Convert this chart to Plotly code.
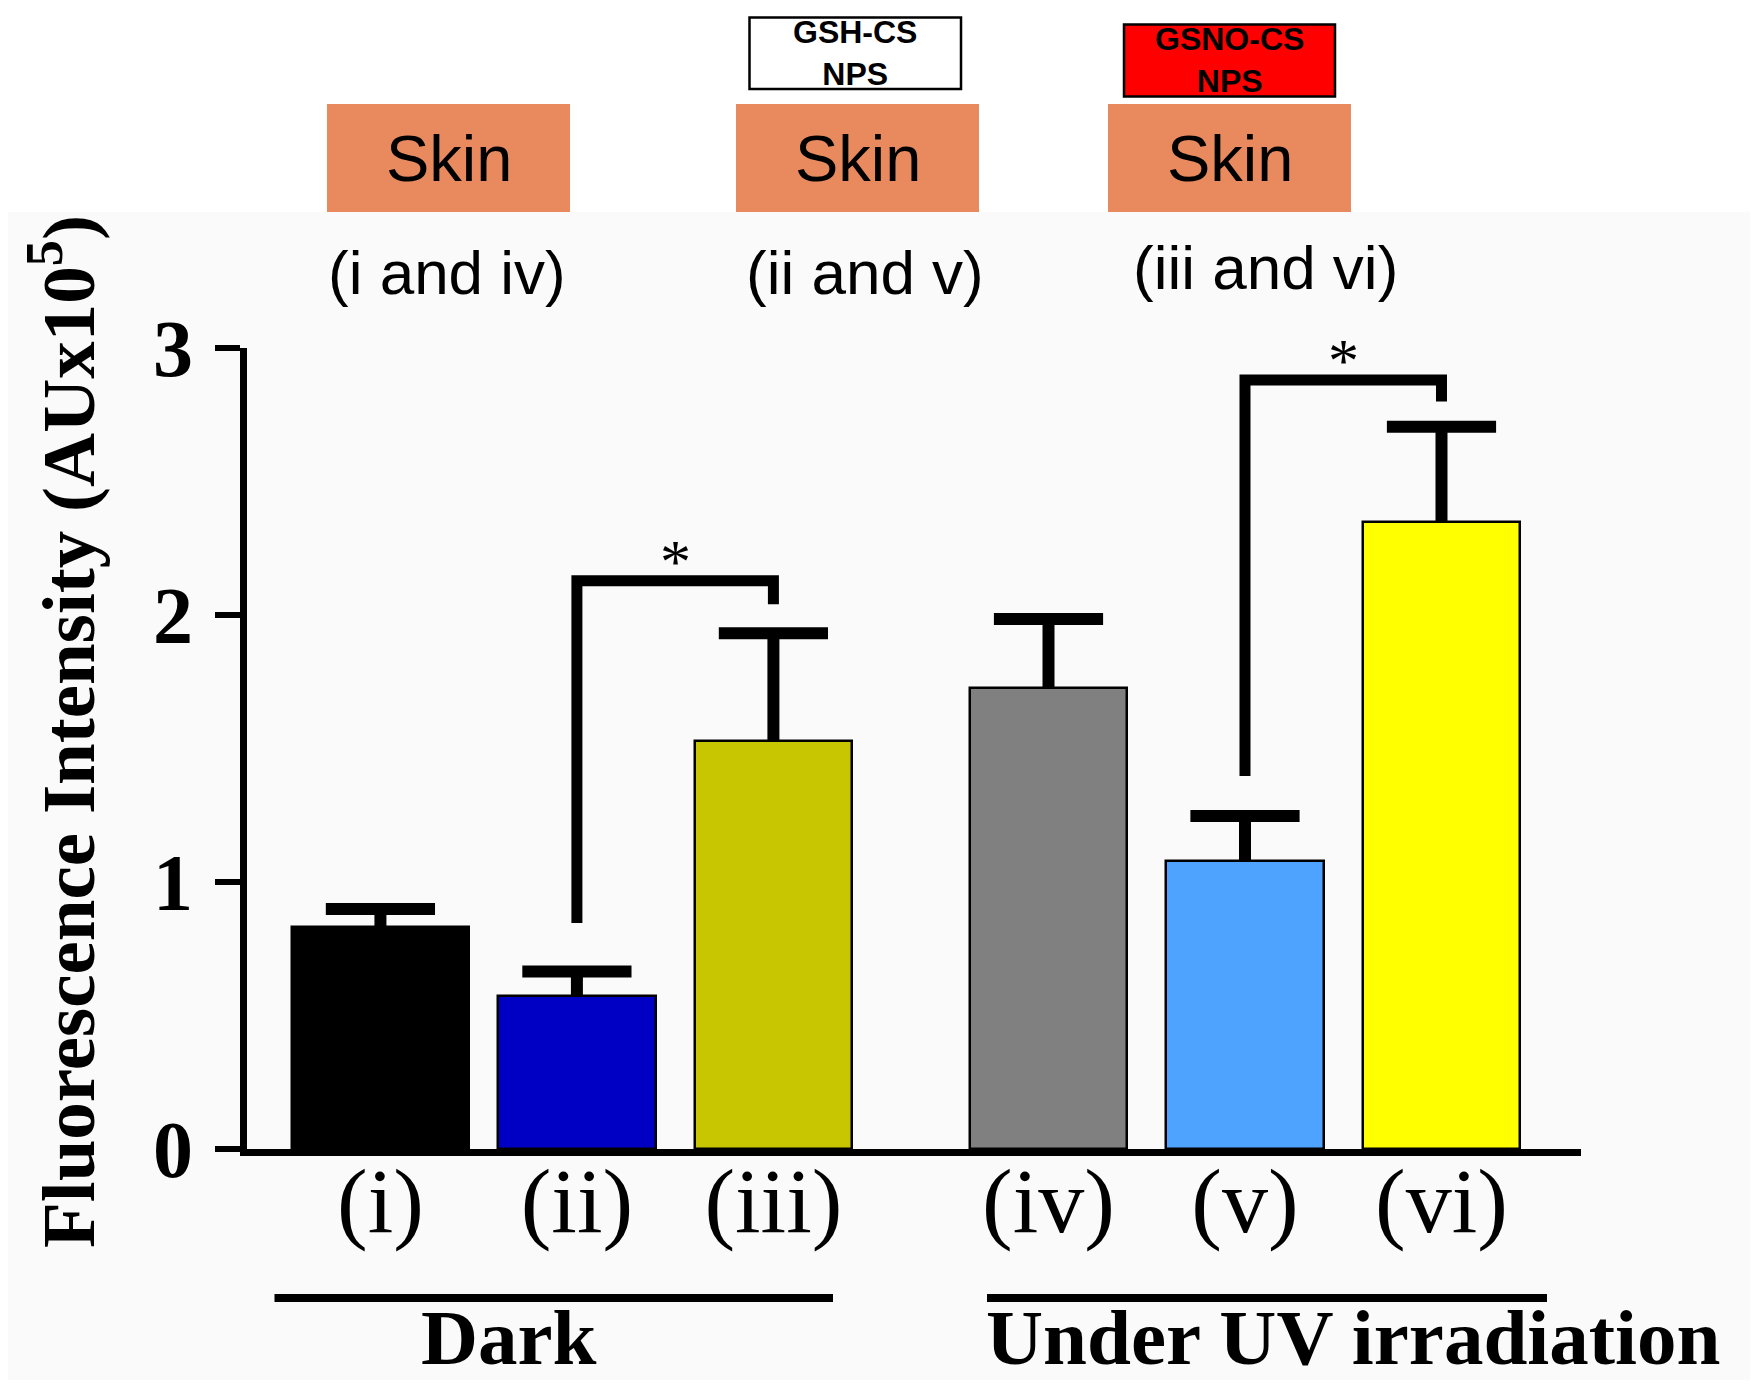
import plotly.graph_objects as go

# ---------------- data ----------------
labels = ["(i)", "(ii)", "(iii)", "(iv)", "(v)", "(vi)"]
group_of_bar = [0, 0, 0, 1, 1, 1]
group_names = ["Dark", "Under UV irradiation"]
means = [0.833, 0.573, 1.528, 1.725, 1.079, 2.349]
sems = [0.066, 0.092, 0.404, 0.260, 0.168, 0.356]

# significance brackets: (left bar, right bar)
sig_pairs = [(1, 2), (4, 5)]
sig_heights = [2.128, 2.88]
sig_left_bottom = [0.846, 1.397]
sig_right_bottom = [2.04, 2.80]
sig_labels = ["*", "*"]

y_ticks = [0, 1, 2, 3]
y_title = "Fluorescence Intensity (AUx10<sup>5</sup>)"

skin_labels = ["(i and iv)", "(ii and v)", "(iii and vi)"]
np_labels = ["GSH-CS<br>NPS", "GSNO-CS<br>NPS"]

# ---------------- style ----------------
bar_colors = ["#000000", "#0000C4", "#C8C600", "#808080", "#4DA3FF", "#FFFF00"]
bar_widths = [0.9, 0.8, 0.8, 0.8, 0.8, 0.8]
group_gap = 0.4
SERIF = "Liberation Serif"
SANS = "Liberation Sans"

# the page body has an 8px margin; lay the figure out so it lands on the
# reference pixel grid (reference coords used below)
OFF = 8
REF_W, REF_H = 1758, 1388
W, H = REF_W - 2 * OFF, REF_H - 2 * OFF
PLOT_L, PLOT_R, PLOT_T, PLOT_B = 247, 1581, 348, 1149  # reference pixels
L, T = PLOT_L - OFF, PLOT_T - OFF
R, B = W - (PLOT_R - OFF), H - (PLOT_B - OFF)
pw, ph = PLOT_R - PLOT_L, PLOT_B - PLOT_T


def px(x):
    return (x - PLOT_L) / pw


def py(y):
    return (PLOT_B - y) / ph


xpos = [i + group_gap * g for i, g in enumerate(group_of_bar)]
tops = [m + s for m, s in zip(means, sems)]

fig = go.Figure()
fig.add_trace(go.Bar(
    x=xpos, y=means, width=bar_widths,
    marker=dict(color=bar_colors, line=dict(color="black", width=2.5)),
    showlegend=False, hoverinfo="y",
))
# upper error bars: stem + cap
fig.add_trace(go.Scatter(
    x=xpos, y=tops, mode="markers",
    marker=dict(symbol="line-ew", size=78, color="black",
                line=dict(color="black", width=12)),
    error_y=dict(type="data", array=[0] * len(sems), arrayminus=sems,
                 symmetric=False, color="black", thickness=12, width=0),
    showlegend=False, hoverinfo="skip",
))

shapes = []
# very light grey panel background
shapes.append(dict(type="rect", xref="paper", yref="paper", layer="below",
                   x0=px(0), x1=px(REF_W), y0=py(REF_H), y1=py(212),
                   fillcolor="#FAFAFA", line=dict(width=0)))

annotations = []
# significance brackets
for (a, b), h, lb, rb, s in zip(sig_pairs, sig_heights, sig_left_bottom, sig_right_bottom, sig_labels):
    xa, xb = xpos[a], xpos[b]
    shapes.append(dict(type="path", xref="x", yref="y",
                       path=f"M {xa},{lb} L {xa},{h} L {xb},{h} L {xb},{rb}",
                       line=dict(color="black", width=11)))
    annotations.append(dict(x=(xa + xb) / 2, y=h + 0.075, xref="x", yref="y",
                            text=s, showarrow=False, yanchor="middle",
                            font=dict(family=SERIF, size=62, color="black")))

# group underlines and names
group_lines = [(274.5, 833), (987, 1547)]
group_text_x = [508.5, 1353]
for (x0, x1), tx, name in zip(group_lines, group_text_x, group_names):
    shapes.append(dict(type="line", xref="paper", yref="paper",
                       x0=px(x0), x1=px(x1), y0=py(1298), y1=py(1298),
                       line=dict(color="black", width=8)))
    annotations.append(dict(x=px(tx), y=py(1337), xref="paper", yref="paper",
                            text=name, showarrow=False, xanchor="center", yanchor="middle",
                            font=dict(family=SERIF, size=79, color="black", weight="bold")))

# Skin boxes
skin_boxes = [(327, 570), (736, 979), (1108, 1351)]
skin_text_pos = [(447, 272), (865, 272), (1265, 267)]
for (x0, x1), (tx, ty), lab in zip(skin_boxes, skin_text_pos, skin_labels):
    shapes.append(dict(type="rect", xref="paper", yref="paper",
                       x0=px(x0), x1=px(x1), y0=py(212), y1=py(104),
                       fillcolor="#E9895E", line=dict(width=0)))
    annotations.append(dict(x=px((x0 + x1) / 2), y=py(158), xref="paper", yref="paper",
                            text="Skin", showarrow=False, xanchor="center", yanchor="middle",
                            font=dict(family=SANS, size=65, color="black")))
    annotations.append(dict(x=px(tx), y=py(ty), xref="paper", yref="paper",
                            text=lab, showarrow=False, xanchor="center", yanchor="middle",
                            font=dict(family=SANS, size=62, color="black")))

# nanoparticle boxes
np_boxes = [(749.5, 961, 17.5, 89), (1124, 1335, 24.5, 96.5)]
np_fill = ["#FFFFFF", "#FF0000"]
for (x0, x1, y0, y1), fill, lab in zip(np_boxes, np_fill, np_labels):
    shapes.append(dict(type="rect", xref="paper", yref="paper",
                       x0=px(x0), x1=px(x1), y0=py(y1), y1=py(y0),
                       fillcolor=fill, line=dict(color="black", width=2.5)))
    annotations.append(dict(x=px((x0 + x1) / 2), y=py((y0 + y1) / 2), xref="paper", yref="paper",
                            text=lab, showarrow=False, xanchor="center", yanchor="middle",
                            font=dict(family=SANS, size=32, color="black", weight="bold")))

# y-axis title
annotations.append(dict(x=px(62), y=py(732), xref="paper", yref="paper",
                        text=y_title, textangle=-90, showarrow=False,
                        xanchor="center", yanchor="middle",
                        font=dict(family=SERIF, size=75, color="black", weight="bold")))

fig.update_layout(
    width=W, height=H,
    margin=dict(l=L, r=R, t=T, b=B, autoexpand=False),
    paper_bgcolor="white", plot_bgcolor="rgba(0,0,0,0)",
    shapes=shapes, annotations=annotations,
    bargap=0,
)
fig.update_xaxes(
    range=[-0.679, 6.11], tickvals=xpos, ticktext=labels,
    showgrid=False, zeroline=False, showline=True, linecolor="black", linewidth=7,
    ticks="", ticklabelstandoff=-34,
    tickfont=dict(family=SERIF, size=92, color="black"),
)
fig.update_yaxes(
    range=[0, 3], tickvals=y_ticks,
    showgrid=False, zeroline=False, showline=True, linecolor="black", linewidth=7,
    ticks="outside", ticklen=25, tickwidth=6, tickcolor="black", ticklabelstandoff=6,
    tickfont=dict(family=SERIF, size=80, color="black", weight="bold"),
)

fig.write_html("out.html")
